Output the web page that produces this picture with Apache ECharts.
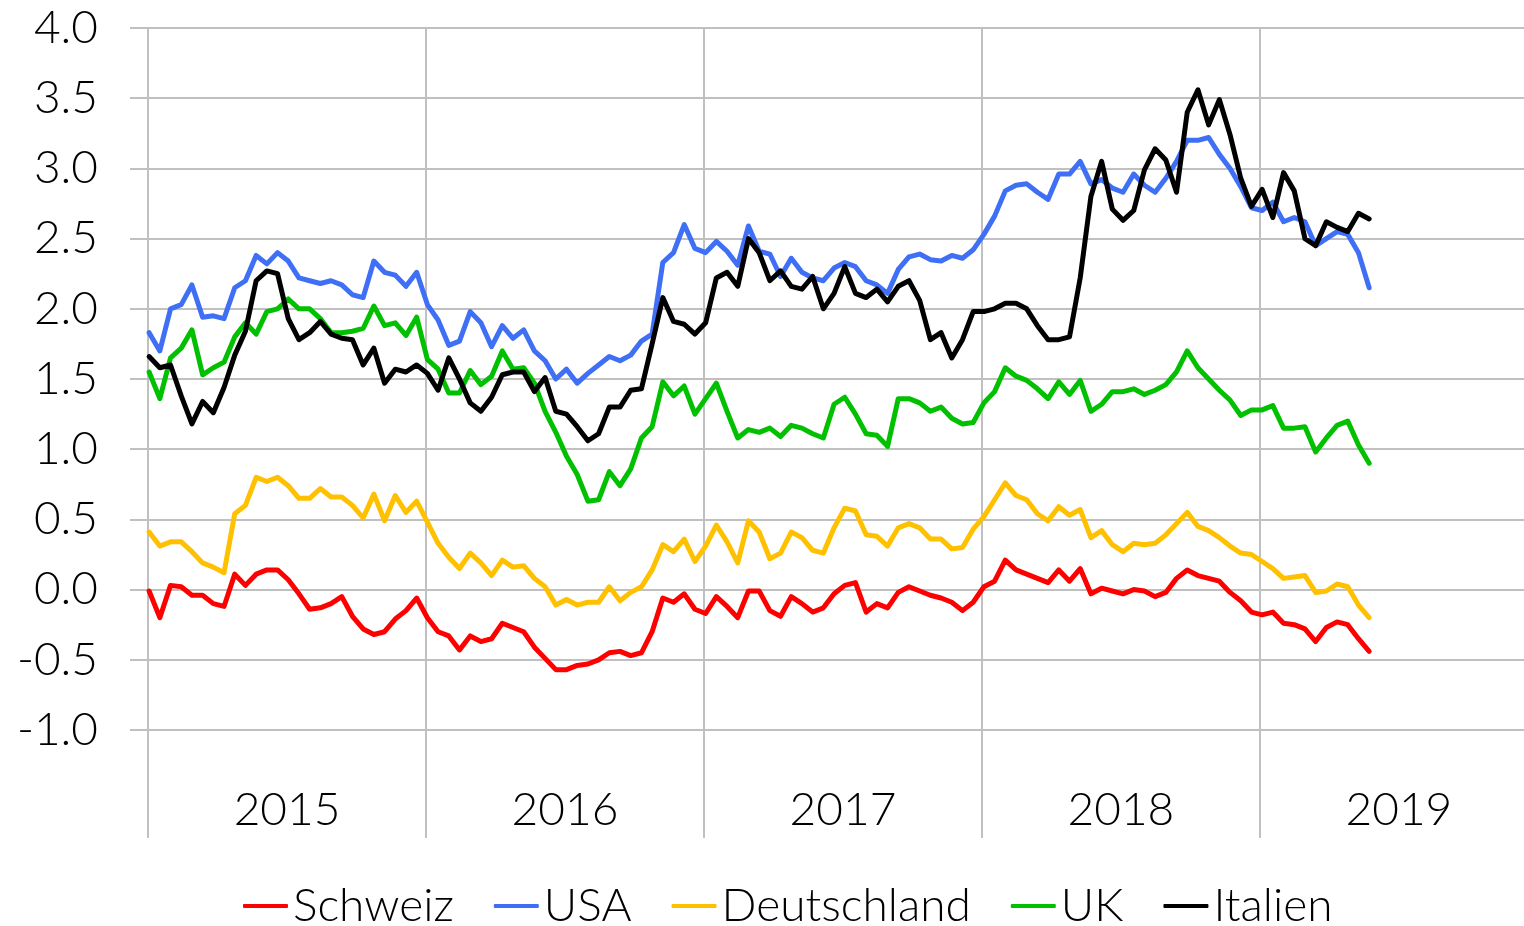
<!DOCTYPE html>
<html>
<head>
<meta charset="utf-8">
<script src="https://cdn.jsdelivr.net/npm/echarts@6/dist/echarts.min.js"></script>
<style>
  html, body { margin: 0; padding: 0; background: #fff; }
  #chart { width: 1524px; height: 926px; }
</style>
</head>
<body>
<div id="chart"></div>
<script>
// Renditen 10-jähriger Staatsanleihen, Werte alle zwei Wochen
const years = [2015, 2016, 2017, 2018, 2019]
const yearMids = [2015.5, 2016.5, 2017.5, 2018.5, 2019.5]
const t0 = 2015.004 // erste Beobachtung
const dt = 0.0385   // zwei Wochen, in Jahren

const schweiz = [-0.01, -0.2, 0.03, 0.02, -0.04, -0.04, -0.1, -0.12, 0.11, 0.03, 0.11, 0.14, 0.14, 0.07, -0.03, -0.14, -0.13, -0.1, -0.05, -0.19, -0.28, -0.32, -0.3,
  -0.21, -0.15, -0.06, -0.2, -0.3, -0.33, -0.43, -0.33, -0.37, -0.35, -0.24, -0.27, -0.3, -0.41, -0.49, -0.57, -0.57, -0.54, -0.53, -0.5, -0.45, -0.44, -0.47,
  -0.45, -0.3, -0.06, -0.09, -0.03, -0.14, -0.17, -0.05, -0.12, -0.2, -0.01, -0.01, -0.15, -0.19, -0.05, -0.1, -0.16, -0.13, -0.03, 0.03, 0.05, -0.16, -0.1,
  -0.13, -0.02, 0.02, -0.01, -0.04, -0.06, -0.09, -0.15, -0.09, 0.02, 0.06, 0.21, 0.14, 0.11, 0.08, 0.05, 0.14, 0.06, 0.15, -0.03, 0.01, -0.01, -0.03,
  0.0, -0.01, -0.05, -0.02, 0.08, 0.14, 0.1, 0.08, 0.06, -0.02, -0.08, -0.16, -0.18, -0.16, -0.24, -0.25, -0.28, -0.37, -0.27, -0.23, -0.25, -0.35, -0.44]

const usa = [1.83, 1.70, 2.0, 2.03, 2.17, 1.94, 1.95, 1.93, 2.15, 2.2, 2.38, 2.32, 2.4, 2.34, 2.22, 2.2, 2.18, 2.2, 2.17, 2.1, 2.08, 2.34, 2.26,
  2.24, 2.16, 2.26, 2.03, 1.92, 1.74, 1.77, 1.98, 1.9, 1.73, 1.88, 1.79, 1.85, 1.7, 1.63, 1.5, 1.57, 1.47, 1.54, 1.6, 1.66, 1.63, 1.67,
  1.77, 1.82, 2.33, 2.4, 2.6, 2.43, 2.4, 2.48, 2.41, 2.31, 2.59, 2.41, 2.39, 2.23, 2.36, 2.26, 2.22, 2.2, 2.29, 2.33, 2.3, 2.2, 2.17,
  2.11, 2.28, 2.37, 2.39, 2.35, 2.34, 2.38, 2.36, 2.42, 2.53, 2.66, 2.84, 2.88, 2.89, 2.83, 2.78, 2.96, 2.96, 3.05, 2.89, 2.92, 2.86, 2.83,
  2.96, 2.88, 2.83, 2.93, 3.05, 3.2, 3.2, 3.22, 3.1, 3.0, 2.87, 2.72, 2.7, 2.76, 2.62, 2.65, 2.62, 2.45, 2.5, 2.55, 2.53, 2.4, 2.15]

const deutschland = [0.41, 0.31, 0.34, 0.34, 0.27, 0.19, 0.16, 0.12, 0.54, 0.6, 0.8, 0.77, 0.8, 0.74, 0.65, 0.65, 0.72, 0.66, 0.66, 0.6, 0.51, 0.68, 0.49,
  0.67, 0.55, 0.63, 0.48, 0.33, 0.23, 0.15, 0.26, 0.19, 0.1, 0.21, 0.16, 0.17, 0.08, 0.02, -0.11, -0.07, -0.11, -0.09, -0.09, 0.02, -0.08, -0.02,
  0.02, 0.14, 0.32, 0.27, 0.36, 0.2, 0.31, 0.46, 0.34, 0.19, 0.49, 0.41, 0.22, 0.26, 0.41, 0.37, 0.28, 0.26, 0.44, 0.58, 0.56, 0.39, 0.38,
  0.31, 0.44, 0.47, 0.44, 0.36, 0.36, 0.29, 0.3, 0.43, 0.52, 0.64, 0.76, 0.67, 0.64, 0.54, 0.49, 0.59, 0.53, 0.57, 0.37, 0.42, 0.32, 0.27,
  0.33, 0.32, 0.33, 0.39, 0.47, 0.55, 0.45, 0.42, 0.37, 0.31, 0.26, 0.25, 0.2, 0.15, 0.08, 0.09, 0.1, -0.02, -0.01, 0.04, 0.02, -0.11, -0.2]

const uk = [1.55, 1.36, 1.65, 1.72, 1.85, 1.53, 1.58, 1.62, 1.8, 1.9, 1.82, 1.98, 2.0, 2.07, 2.0, 2.0, 1.93, 1.83, 1.83, 1.84, 1.86, 2.02, 1.88,
  1.9, 1.81, 1.94, 1.64, 1.57, 1.4, 1.4, 1.56, 1.46, 1.52, 1.7, 1.57, 1.58, 1.47, 1.27, 1.12, 0.95, 0.82, 0.63, 0.64, 0.84, 0.74, 0.86,
  1.08, 1.16, 1.48, 1.38, 1.45, 1.25, 1.36, 1.47, 1.27, 1.08, 1.14, 1.12, 1.15, 1.09, 1.17, 1.15, 1.11, 1.08, 1.32, 1.37, 1.25, 1.11, 1.1,
  1.02, 1.36, 1.36, 1.33, 1.27, 1.3, 1.22, 1.18, 1.19, 1.33, 1.41, 1.58, 1.52, 1.49, 1.43, 1.36, 1.48, 1.39, 1.49, 1.27, 1.32, 1.41, 1.41,
  1.43, 1.39, 1.42, 1.46, 1.55, 1.7, 1.58, 1.5, 1.42, 1.35, 1.24, 1.28, 1.28, 1.31, 1.15, 1.15, 1.16, 0.98, 1.08, 1.17, 1.2, 1.03, 0.9]

const italien = [1.66, 1.58, 1.6, 1.38, 1.18, 1.34, 1.26, 1.44, 1.67, 1.84, 2.2, 2.27, 2.25, 1.93, 1.78, 1.83, 1.91, 1.82, 1.79, 1.78, 1.6, 1.72, 1.47,
  1.57, 1.55, 1.6, 1.54, 1.42, 1.65, 1.5, 1.33, 1.27, 1.37, 1.53, 1.55, 1.55, 1.41, 1.51, 1.27, 1.25, 1.16, 1.06, 1.11, 1.3, 1.3, 1.42,
  1.43, 1.75, 2.08, 1.91, 1.89, 1.82, 1.9, 2.22, 2.26, 2.16, 2.5, 2.4, 2.2, 2.27, 2.16, 2.14, 2.23, 2.0, 2.11, 2.3, 2.11, 2.08, 2.14,
  2.05, 2.16, 2.2, 2.06, 1.78, 1.83, 1.65, 1.78, 1.98, 1.98, 2.0, 2.04, 2.04, 2.0, 1.88, 1.78, 1.78, 1.8, 2.22, 2.8, 3.05, 2.71, 2.63,
  2.7, 2.99, 3.14, 3.06, 2.83, 3.4, 3.56, 3.31, 3.49, 3.24, 2.93, 2.73, 2.85, 2.65, 2.97, 2.84, 2.5, 2.45, 2.62, 2.58, 2.55, 2.68, 2.64]

const seriesList = [
  { name: 'Schweiz', values: schweiz, color: '#ff0000' },
  { name: 'USA', values: usa, color: '#3f6ff5' },
  { name: 'Deutschland', values: deutschland, color: '#ffc000' },
  { name: 'UK', values: uk, color: '#00c000' },
  { name: 'Italien', values: italien, color: '#000000' }
]

const font = 'Lato, "Open Sans", sans-serif'
const gridGray = '#c0c0c0'
const textSize = 46

let chartDom = document.getElementById('chart')
const myChart = echarts.init(chartDom)

let option = {
  animation: false,
  textStyle: { fontFamily: font },
  grid: { left: 148, right: 0, top: 28, bottom: 196 },
  legend: {
    bottom: -8,
    left: 238,
    icon: 'roundRect',
    itemWidth: 45,
    itemHeight: 4,
    itemGap: 40,
    textStyle: { fontSize: textSize, fontWeight: 300, color: '#000', fontFamily: font },
    data: seriesList.map(s => s.name)
  },
  xAxis: {
    type: 'value',
    min: 2015,
    max: 2019.95,
    interval: 1,
    axisLine: { show: true, onZero: false, lineStyle: { color: gridGray, width: 2 } },
    axisTick: { show: true, customValues: years, length: 108, lineStyle: { color: gridGray, width: 2 } },
    splitLine: { show: true, lineStyle: { color: gridGray, width: 2 } },
    axisLabel: {
      customValues: yearMids,
      formatter: v => String(Math.floor(v)),
      margin: 57,
      fontSize: textSize,
      fontWeight: 300,
      color: '#000'
    }
  },
  yAxis: {
    type: 'value',
    min: -1,
    max: 4,
    interval: 0.5,
    axisLine: { show: true, onZero: false, lineStyle: { color: gridGray, width: 2 } },
    axisTick: { show: true, length: 18, lineStyle: { color: gridGray, width: 2 } },
    splitLine: { show: true, lineStyle: { color: gridGray, width: 2 } },
    axisLabel: {
      formatter: v => v.toFixed(1),
      margin: 50,
      fontSize: textSize,
      fontWeight: 300,
      color: '#000'
    }
  },
  series: seriesList.map(s => ({
    name: s.name,
    type: 'line',
    showSymbol: false,
    symbol: 'none',
    itemStyle: { color: s.color },
    lineStyle: { color: s.color, width: 5, join: 'round', cap: 'round' },
    data: s.values.map((v, i) => [t0 + i * dt, v])
  }))
}

myChart.setOption(option)
</script>
</body>
</html>
